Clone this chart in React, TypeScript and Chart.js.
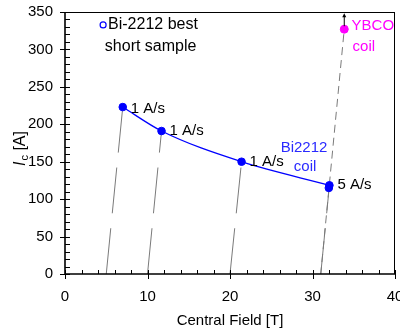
import React, { useEffect, useRef } from "react";
import { Chart, registerables } from "chart.js";

Chart.register(...registerables);

// ---- data ----
const rampLabels = ["1 A/s", "1 A/s", "1 A/s", "5 A/s"];
const bi2212Field = [7.0, 11.7, 21.4, 32.05];
const bi2212Current = [223, 191, 150, 118.5];
const extraField = [31.98];
const extraCurrent = [115];
const loadLineStartField = [5, 10, 20, 31];
const ybcoField = [33.85];
const ybcoCurrent = [327];
const xTickValues = [0, 10, 20, 30, 40];
const yTickValues = [0, 50, 100, 150, 200, 250, 300, 350];

const FONT = '"Liberation Sans", Arial, sans-serif';
const BLUE = "#0000ff";
const MAGENTA = "#ff00ff";
const GRAY = "#7a7a7a";

export default function App() {
  const ref = useRef<HTMLCanvasElement>(null);

  useEffect(() => {
    const canvas = ref.current;
    if (!canvas) return;

    const loadLines = loadLineStartField.map((x0, i) => ({
      label: "load" + i,
      data: [
        { x: x0, y: 0 },
        { x: bi2212Field[i], y: bi2212Current[i] },
      ],
      showLine: true,
      borderColor: GRAY,
      borderWidth: 1,
      borderDash: [46, 15],
      pointRadius: 0,
      tension: 0,
    }));

    const ybcoLine = {
      label: "ybcoLine",
      data: [
        { x: ybcoField[0], y: ybcoCurrent[0] },
        { x: loadLineStartField[3], y: 0 },
      ],
      showLine: true,
      borderColor: GRAY,
      borderWidth: 1,
      borderDash: [8, 5],
      borderDashOffset: -5,
      pointRadius: 0,
      tension: 0,
    };

    const datasets: any[] = [
      {
        label: "ybco",
        data: ybcoField.map((x, i) => ({ x, y: ybcoCurrent[i] })),
        pointRadius: 4,
        pointBackgroundColor: MAGENTA,
        pointBorderColor: MAGENTA,
        showLine: false,
      },
      {
        label: "dots",
        data: [
          ...bi2212Field.map((x, i) => ({ x, y: bi2212Current[i] })),
          ...extraField.map((x, i) => ({ x, y: extraCurrent[i] })),
        ],
        pointRadius: 3.8,
        pointBackgroundColor: BLUE,
        pointBorderColor: BLUE,
        showLine: false,
      },
      {
        label: "curve",
        data: bi2212Field.map((x, i) => ({ x, y: bi2212Current[i] })),
        showLine: true,
        borderColor: BLUE,
        borderWidth: 1.3,
        pointRadius: 0,
        cubicInterpolationMode: "monotone",
      },
      ybcoLine,
      ...loadLines,
    ];

    const framePlugin = {
      id: "framePlugin",
      afterDraw(chart: any) {
        const { ctx, chartArea: ca } = chart;
        const xs = chart.scales.x;
        const ys = chart.scales.y;
        const px = (v: number) => xs.getPixelForValue(v);
        const py = (v: number) => ys.getPixelForValue(v);
        ctx.save();
        ctx.strokeStyle = "#000";
        ctx.lineWidth = 1;
        // top & right frame
        ctx.beginPath();
        ctx.moveTo(ca.left, ca.top + 0.5);
        ctx.lineTo(ca.right, ca.top + 0.5);
        ctx.moveTo(ca.right - 0.5, ca.top);
        ctx.lineTo(ca.right - 0.5, ca.bottom);
        ctx.stroke();
        // axes
        ctx.lineWidth = 1.6;
        ctx.beginPath();
        ctx.moveTo(ca.left, ca.top);
        ctx.lineTo(ca.left, ca.bottom);
        ctx.moveTo(ca.left, ca.bottom);
        ctx.lineTo(ca.right, ca.bottom);
        ctx.stroke();
        // ticks
        ctx.lineWidth = 1;
        ctx.beginPath();
        for (let v = 0; v <= 40; v += 2) {
          const x = Math.round(px(v)) + 0.5;
          const major = v % 10 === 0;
          ctx.moveTo(x, ca.bottom - 4);
          ctx.lineTo(x, ca.bottom + (major ? 5 : 0));
        }
        for (let v = 0; v <= 350; v += 10) {
          const y = Math.round(py(v)) + 0.5;
          const major = v % 50 === 0;
          ctx.moveTo(ca.left + 5, y);
          ctx.lineTo(ca.left - (major ? 5 : 0), y);
        }
        ctx.stroke();

        // YBCO arrow
        const ax = px(ybcoField[0]);
        const ay = py(ybcoCurrent[0]);
        ctx.beginPath();
        ctx.moveTo(ax, ay - 3);
        ctx.lineTo(ax, ay - 13);
        ctx.stroke();
        ctx.fillStyle = "#000";
        ctx.beginPath();
        ctx.moveTo(ax, ay - 16);
        ctx.lineTo(ax - 2, ay - 12);
        ctx.lineTo(ax + 2, ay - 12);
        ctx.closePath();
        ctx.fill();

        const text = (t: string, x: number, y: number, color: string, size: number) => {
          ctx.font = `${size}px ${FONT}`;
          ctx.fillStyle = color;
          ctx.textAlign = "left";
          ctx.textBaseline = "middle";
          ctx.fillText(t, x, y);
        };

        // ramp-rate labels
        bi2212Field.forEach((f, i) => {
          text(rampLabels[i], px(f) + 8, py(bi2212Current[i]) + (i === 0 ? 2 : 0), "#000", 15);
        });

        // legend marker
        ctx.strokeStyle = BLUE;
        ctx.lineWidth = 1.2;
        ctx.beginPath();
        ctx.arc(px(4.62), py(332.7), 3, 0, Math.PI * 2);
        ctx.stroke();
        text("Bi-2212 best", px(5.22), py(332.7), "#000", 16);
        text("short sample", px(4.83), py(303.7), "#000", 16);

        text("Bi2212", px(26.14), py(168.9), "#2a2aff", 15);
        text("coil", px(27.74), py(143.2), "#2a2aff", 15);
        text("YBCO", px(34.74), py(331.3), MAGENTA, 15);
        text("coil", px(34.86), py(303.3), MAGENTA, 15);

        // x title
        ctx.font = `15px ${FONT}`;
        ctx.fillStyle = "#000";
        ctx.textAlign = "center";
        ctx.textBaseline = "middle";
        ctx.fillText("Central Field [T]", (ca.left + ca.right) / 2, 321);

        // y title
        ctx.save();
        ctx.translate(25, 149);
        ctx.rotate(-Math.PI / 2);
        ctx.textAlign = "left";
        ctx.textBaseline = "alphabetic";
        const f1 = `italic 16px ${FONT}`;
        const f2 = `11px ${FONT}`;
        const f3 = `16px ${FONT}`;
        ctx.font = f1;
        const w1 = ctx.measureText("I").width;
        ctx.font = f2;
        const w2 = ctx.measureText("c").width;
        ctx.font = f3;
        const w3 = ctx.measureText(" [A]").width;
        let cx = -(w1 + w2 + w3) / 2;
        ctx.font = f1;
        ctx.fillText("I", cx, 0);
        cx += w1 + 1;
        ctx.font = f2;
        ctx.fillText("c", cx, 3);
        cx += w2;
        ctx.font = f3;
        ctx.fillText(" [A]", cx, 0);
        ctx.restore();

        ctx.restore();
      },
    };

    const tickFont = { family: FONT, size: 15 };

    const chart = new Chart(canvas, {
      type: "scatter",
      data: { datasets },
      options: {
        responsive: false,
        animation: false,
        layout: { padding: { top: 12, right: 3, left: 0, bottom: 0 } },
        plugins: {
          legend: { display: false },
          tooltip: { enabled: false },
        },
        scales: {
          x: {
            type: "linear",
            min: 0,
            max: 40,
            afterBuildTicks: (s: any) => {
              s.ticks = xTickValues.map((v) => ({ value: v }));
            },
            ticks: {
              color: "#000",
              font: tickFont,
              padding: 14,
              maxRotation: 0,
              autoSkip: false,
            },
            grid: { display: false, drawTicks: false },
            border: { display: false },
            afterFit: (s: any) => {
              s.height = 57;
              s.paddingLeft = 0;
              s.paddingRight = 0;
            },
          },
          y: {
            type: "linear",
            min: 0,
            max: 350,
            afterBuildTicks: (s: any) => {
              s.ticks = yTickValues.map((v) => ({ value: v }));
            },
            ticks: {
              color: "#000",
              font: tickFont,
              padding: 12,
              autoSkip: false,
            },
            grid: { display: false, drawTicks: false },
            border: { display: false },
            afterFit: (s: any) => {
              s.width = 65;
              s.paddingTop = 0;
              s.paddingBottom = 0;
            },
          },
        },
      },
      plugins: [framePlugin],
    } as any);

    return () => chart.destroy();
  }, []);

  return (
    <div style={{ position: "fixed", left: 0, top: 0, width: 400, height: 331, background: "#fff" }}>
      <canvas ref={ref} width={400} height={331} style={{ display: "block" }} />
    </div>
  );
}
